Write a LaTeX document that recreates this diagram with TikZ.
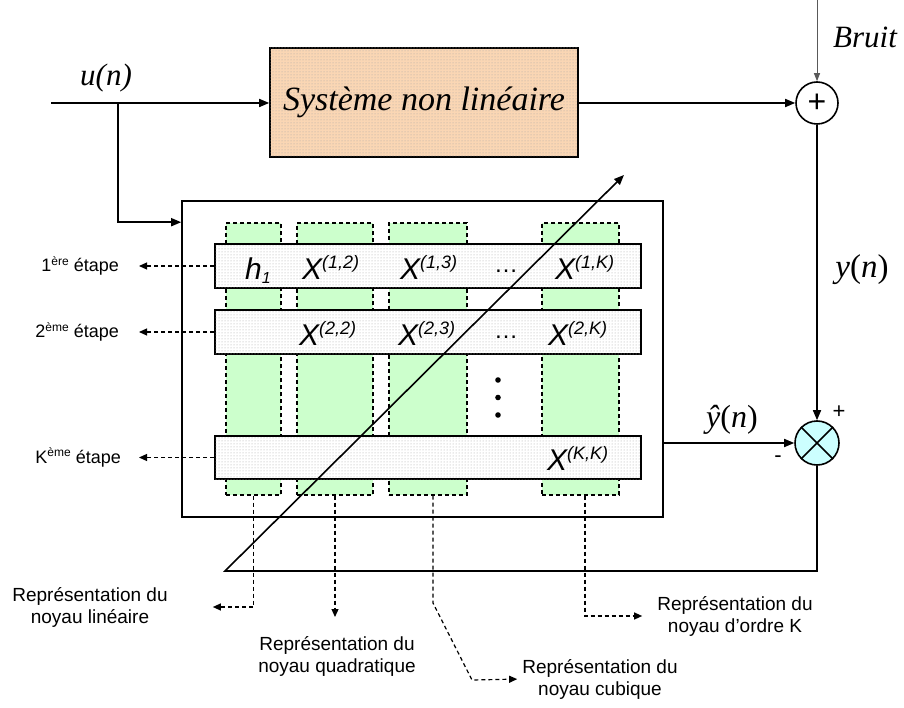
\documentclass[tikz,border=0pt]{standalone}
\usepackage{fontspec}
\setmainfont{Liberation Serif}
\setsansfont{Liberation Sans}
\usetikzlibrary{arrows.meta,patterns,calc}
\definecolor{peach}{RGB}{250,214,180}
\definecolor{lgreen}{RGB}{204,255,204}
\definecolor{lcyan}{RGB}{204,255,255}
\tikzset{
  arr/.style={line width=1.6pt,-{Triangle[length=10pt,width=8pt]}},
  garr/.style={line width=1pt,draw=gray!70!black,-{Triangle[length=8pt,width=6pt]}},
  darr/.style={line width=1.2pt,dash pattern=on 4pt off 3pt,-{Triangle[length=8pt,width=7pt]}},
  sysbox/.style={draw,line width=1.6pt,fill=peach,postaction={pattern=dots,pattern color=gray!70},
    minimum width=308pt,minimum height=109pt,inner sep=0pt,
    font=\itshape\fontsize{34}{34}\selectfont},
  mainbox/.style={draw,line width=1.6pt,minimum width=481pt,minimum height=316pt,inner sep=0pt},
  colbox/.style={draw,dash pattern=on 4pt off 3pt,line width=1.2pt,fill=lgreen,
    minimum width=#1,minimum height=272pt,inner sep=0pt},
  rowbox/.style={draw,line width=1.6pt,fill=white,postaction={pattern=dots,pattern color=gray!70},
    minimum width=426pt,minimum height=#1,inner sep=0pt},
  sumc/.style={draw,circle,line width=1.6pt,fill=white,minimum size=42pt,inner sep=0pt,
    font=\sffamily\fontsize{32}{32}\selectfont},
  mulc/.style={draw,circle,line width=1.6pt,fill=lcyan,minimum size=44pt,inner sep=0pt},
  xlab/.style={anchor=base west,inner sep=0pt,font=\sffamily\itshape\fontsize{30}{30}\selectfont},
  stage/.style={anchor=east,inner sep=0pt,font=\sffamily\fontsize{18}{18}\selectfont},
  klab/.style={align=center,inner sep=0pt,font=\sffamily\fontsize{19}{22}\selectfont},
  sig/.style={inner sep=0pt,font=\fontsize{30}{30}\selectfont},
  sgn/.style={inner sep=0pt,font=\sffamily\fontsize{22}{22}\selectfont},
}
\newcommand{\sups}[1]{\raisebox{11pt}{\fontsize{18}{18}\selectfont #1}}
\newcommand{\supe}[1]{\raisebox{6.5pt}{\fontsize{12}{12}\selectfont #1}}
\begin{document}
\begin{tikzpicture}[x=1pt,y=-1pt]
\useasboundingbox (0,0) rectangle (904,708);

% blocks
\node[sysbox] (sys) at (424,102.5) {Système non linéaire};
\node[sumc] (plus) at (817,103) {+};
\node[mulc] (mult) at (817,443) {};
\draw[line width=1.6pt] (mult.north west) -- (mult.south east) (mult.north east) -- (mult.south west);
\node[mainbox] (main) at (422.5,359) {};

% columns
\node[colbox=55pt] (col1) at (253.5,359) {};
\node[colbox=76pt] (col2) at (335,359) {};
\node[colbox=78pt] (col3) at (428,359) {};
\node[colbox=77pt] (col4) at (580.5,359) {};

% rows
\node[rowbox=44pt] (row1) at (428,266) {};
\node[rowbox=44pt] (row2) at (428,332) {};
\node[rowbox=43pt] (row3) at (428,457.5) {};

% row contents
\node[xlab] (h1) at (245,280) {h\raisebox{-4pt}{\fontsize{16}{16}\selectfont 1}};
\node[xlab] (x12) at (302,280) {X\sups{(1,2)}};
\node[xlab] (x13) at (400,280) {X\sups{(1,3)}};
\node[inner sep=0pt,font=\sffamily\fontsize{24}{24}\selectfont] (d1) at (506,271) {…};
\node[xlab] (x1k) at (555,280) {X\sups{(1,K)}};
\node[xlab] (x22) at (299,345) {X\sups{(2,2)}};
\node[xlab] (x23) at (398,345) {X\sups{(2,3)}};
\node[inner sep=0pt,font=\sffamily\fontsize{24}{24}\selectfont] (d2) at (506,337) {…};
\node[xlab] (x2k) at (548,345) {X\sups{(2,K)}};
\node[xlab] (xkk) at (547,470) {X\sups{(K,K)}};
\fill (498,380) circle (2.8) (498,397.5) circle (2.8) (498,415) circle (2.8);

% stage labels
\node[stage] (s1) at (119,266) {1\supe{ère} étape};
\node[stage] (s2) at (119,332) {2\supe{ème} étape};
\node[stage] (s3) at (121,457.5) {K\supe{ème} étape};
\draw[darr,shorten >=20pt] (row1.west) -- (s1.east);
\draw[darr,shorten >=20pt] (row2.west) -- (s2.east);
\draw[darr,shorten >=18pt] (row3.west) -- (s3.east);

% kernel labels
\node[klab] (klin) at (90,607) {Représentation du\\noyau linéaire};
\node[klab] (kquad) at (337,656) {Représentation du\\noyau quadratique};
\node[klab] (kcub) at (600,679) {Représentation du\\noyau cubique};
\node[klab] (kord) at (735,616) {Représentation du\\noyau d'ordre K};
\coordinate (q1) at (335,617);
\coordinate (c3a) at (433,603);
\coordinate (c3b) at (472,680);
\draw[darr,shorten >=45pt] (col1.south) |- (klin.east);
\draw[darr] (col2.south) -- (q1);
\draw[darr,shorten >=5pt] ([xshift=5pt]col3.south) -- (c3a) -- (c3b) -- (kcub.west);
\draw[darr,shorten >=15pt] ([xshift=4.5pt]col4.south) |- (kord.west);

% signal labels
\node[sig,font=\itshape\fontsize{31}{31}\selectfont] (un) at (106,78) {u(n)};
\node[sig,font=\itshape\fontsize{31}{31}\selectfont] (bruit) at (865,37) {Bruit};
\node[sig,font=\fontsize{33}{33}\selectfont] (yn) at (862,270) {\textit{y}(\textit{n})};
\node[sig,font=\fontsize{32}{32}\selectfont] (yhat) at (732,420) {\textit{ŷ}(\textit{n})};
\node[sgn] (pl) at (839,412) {+};
\node[sgn] (mi) at (778,459) {-};

% connectors
\coordinate (in) at (51,103);
\coordinate (split) at (118,103);
\coordinate (btop) at (817,0);
\coordinate (fb) at (225,571);
\coordinate (tip) at (624,175);
\draw[arr] (in) -- (sys.west |- in);
\draw[arr] (split) |- ($(main.north west)+(0,22)$);
\draw[arr] (sys.east |- plus.west) -- (plus.west);
\draw[garr] (btop) -- (plus.north);
\draw[arr] (plus.south) -- (mult.north);
\draw[arr] (main.east |- mult.west) -- (mult.west);
\draw[arr] (mult.south) |- (fb) -- (tip);
\end{tikzpicture}
\end{document}
